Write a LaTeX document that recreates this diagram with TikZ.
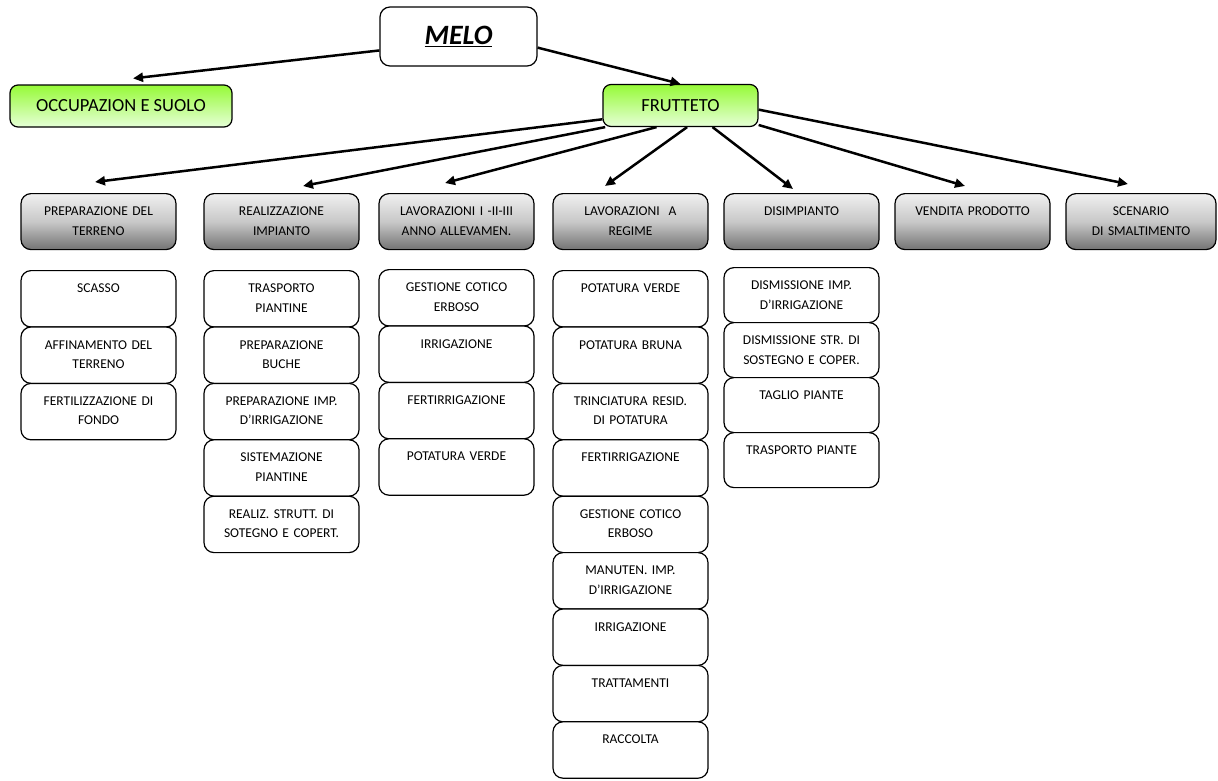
\documentclass[tikz,border=0pt]{standalone}
\usepackage{fontspec}
\setmainfont{Carlito}
\usetikzlibrary{arrows.meta}

\definecolor{verdesu}{RGB}{150,250,55}
\definecolor{verdegiu}{RGB}{230,255,215}
\definecolor{grigiosu}{RGB}{240,240,240}
\definecolor{grigiomezzo}{RGB}{200,200,200}
\definecolor{grigiogiu}{RGB}{115,115,115}

\tikzset{
  radice/.style={draw, line width=1.2pt, rounded corners=10pt, fill=white,
    minimum width=157pt, minimum height=59pt,
    font=\fontsize{28}{30}\selectfont\bfseries\itshape},
  ramo/.style={draw, line width=1.2pt, rounded corners=8pt,
    top color=verdesu, bottom color=verdegiu, minimum height=42pt,
    font=\fontsize{18.5}{20}\selectfont},
  fase/.style={draw, line width=1.2pt, rounded corners=10pt,
    top color=grigiosu, bottom color=grigiogiu, middle color=grigiomezzo,
    text width=150pt, minimum width=155pt, align=center, anchor=north,
    inner xsep=0pt, inner ysep=0pt, text height=22pt, text depth=34pt,
    font=\fontsize{13.5}{20}\selectfont},
  voce/.style={draw, line width=1.2pt, rounded corners=10pt, fill=white,
    text width=150pt, minimum width=155pt, align=center, anchor=north,
    inner xsep=0pt, inner ysep=0pt, text height=22pt, text depth=34.4pt,
    font=\fontsize{13.5}{19.5}\selectfont},
  freccia/.style={line width=2.5pt, -{Triangle[length=10pt,width=9pt]}}
}

\begin{document}
\begin{tikzpicture}[x=1pt,y=-1pt]
  \useasboundingbox (0,0) rectangle (1218,780);

  % radice e rami
  \node[radice] (melo) at (458.5,36.5) {\underline{MELO}};
  \node[ramo, minimum width=222pt] (occup) at (121,106) {OCCUPAZION E SUOLO};
  \node[ramo, minimum width=155pt] (frutteto) at (680.5,105.5) {FRUTTETO};

  \draw[freccia] (melo.190) -- ([xshift=12pt,yshift=6pt]occup.north);
  \draw[freccia] (melo.352) -- (frutteto.north);

  % fasi
  \node[fase] (prep) at (98.5,193) {PREPARAZIONE DEL\\TERRENO};
  \node[fase] (real) at (281.5,193) {REALIZZAZIONE\\IMPIANTO};
  \node[fase] (lav) at (456.5,193) {LAVORAZIONI I -II-III\\ANNO ALLEVAMEN.};
  \node[fase] (regime) at (630.5,193) {LAVORAZIONI \ A\\REGIME};
  \node[fase] (disimp) at (801.5,193) {DISIMPIANTO};
  \node[fase] (vendita) at (972.5,193) {VENDITA PRODOTTO};
  \node[fase, text width=145pt, minimum width=150pt] (smalt) at (1141,193) {SCENARIO\\DI SMALTIMENTO};

  \foreach \n/\a/\dx/\dy in {prep/190/-3.5/11, real/196/21.5/7, lav/222/-11.5/10,
      regime/287/-25.5/7, disimp/326/-8.5/4, vendita/346/-7.5/7, smalt/357/-13/9}
    \draw[freccia] (frutteto.\a) -- ([xshift=\dx pt,yshift=\dy pt]\n.north);

  % voci delle fasi
  \foreach \t [count=\i] in {{SCASSO}, {AFFINAMENTO DEL\\TERRENO}, {FERTILIZZAZIONE DI\\FONDO}}
    \node[voce] (prep\i) at (98.5,{270+(\i-1)*56.4}) {\t};

  \foreach \t [count=\i] in {{TRASPORTO\\PIANTINE}, {PREPARAZIONE\\BUCHE},
      {PREPARAZIONE IMP.\\D’IRRIGAZIONE}, {SISTEMAZIONE\\PIANTINE},
      {REALIZ. STRUTT. DI\\SOTEGNO E COPERT.}}
    \node[voce] (real\i) at (281.5,{270+(\i-1)*56.4}) {\t};

  \foreach \t [count=\i] in {{GESTIONE COTICO\\ERBOSO}, {IRRIGAZIONE},
      {FERTIRRIGAZIONE}, {POTATURA VERDE}}
    \node[voce] (lav\i) at (456.5,{269+(\i-1)*56.4}) {\t};

  \foreach \t [count=\i] in {{POTATURA VERDE}, {POTATURA BRUNA},
      {TRINCIATURA RESID.\\DI POTATURA}, {FERTIRRIGAZIONE},
      {GESTIONE COTICO\\ERBOSO}, {MANUTEN. IMP.\\D’IRRIGAZIONE},
      {IRRIGAZIONE}, {TRATTAMENTI}, {RACCOLTA}}
    \node[voce] (regime\i) at (630.5,{270+(\i-1)*56.4}) {\t};

  \foreach \t [count=\i] in {{DISMISSIONE IMP.\\D’IRRIGAZIONE},
      {DISMISSIONE STR. DI\\SOSTEGNO E COPER.}, {TAGLIO PIANTE}, {TRASPORTO PIANTE}}
    \node[voce, text depth=33pt] (disimp\i) at (801.5,{267+(\i-1)*55}) {\t};
\end{tikzpicture}
\end{document}
